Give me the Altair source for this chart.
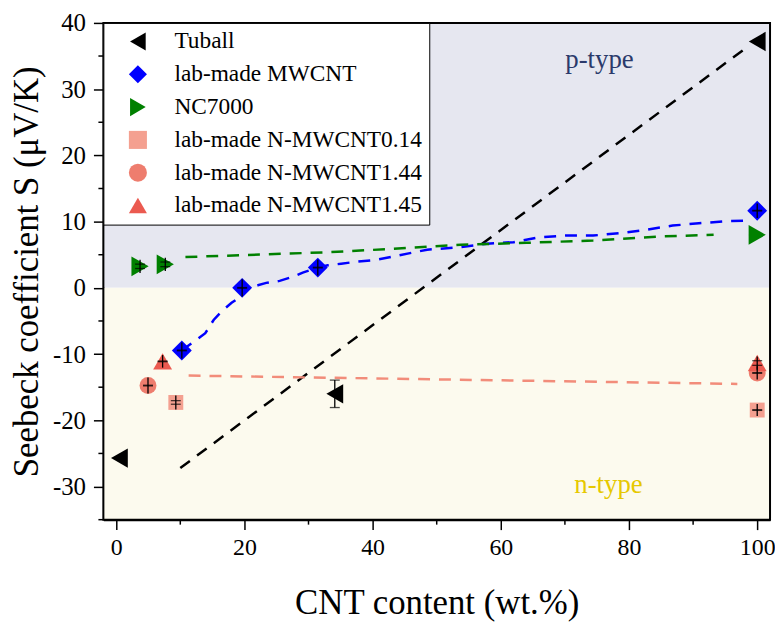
import altair as alt
import pandas as pd

# ---------------- data ----------------
series_names = ["Tuball", "lab-made MWCNT", "NC7000",
                "lab-made N-MWCNT0.14", "lab-made N-MWCNT1.44", "lab-made N-MWCNT1.45"]
series_colors = ["#000000", "#0000ff", "#008000", "#f4a090", "#ee7d6e", "#eb5a50"]
series_shapes = ["triangle-left", "diamond", "triangle-right", "square", "circle", "triangle-up"]
series_sizes = [380, 400, 400, 225, 290, 360]

tuball_x = [0.5, 34.1, 100]
tuball_y = [-25.7, -16.0, 37.2]
tuball_whisker = [0, 2.07, 0]
tuball_cap = [0, 2.07, 0]

mwcnt_x = [10.24, 19.65, 31.45, 100]
mwcnt_y = [-9.45, 0.0, 3.06, 11.65]
mwcnt_whisker = [1.2, 1.3, 1.2, 1.1]
mwcnt_cap = [0.05, 0.05, 0.05, 0.05]

nc_x = [3.72, 7.66, 100]
nc_y = [3.25, 3.55, 8.0]
nc_whisker = [1.0, 1.0, 0]
nc_cap = [0.33, 0.35, 0]

n014_x = [9.3, 100]
n014_y = [-17.3, -18.45]
n014_whisker = [1.05, 0.9]
n014_cap = [0.27, 0.05]

n144_x = [4.96, 100]
n144_y = [-14.75, -12.85]
n144_whisker = [1.2, 1.0]
n144_cap = [0.05, 0.05]

n145_x = [7.24, 100]
n145_y = [-11.1, -11.35]
n145_whisker = [0.95, 1.0]
n145_cap = [0.05, 0.35]

# dashed trend curves
fit_tuball_x = [10.0, 98.5]
fit_tuball_y = [-27.2, 36.4]
fit_mwcnt_x = [10.2, 12.4, 13.9, 15.2, 16.4, 18.0, 19.0, 19.65, 22.1, 23.4, 25.5, 27.8, 29.1,
               31.45, 33.0, 35.1, 37.1, 40.7, 48.5, 53.7, 57.8, 62.0, 66.1, 70.2, 74.4, 78.5,
               82.6, 86.8, 90.9, 95.0, 98.4]
fit_mwcnt_y = [-9.45, -7.95, -6.85, -4.85, -3.6, -2.25, -1.6, 0.0, 0.4, 0.75, 1.05, 1.75, 2.3,
               3.06, 3.4, 3.65, 3.9, 4.25, 5.76, 6.15, 6.66, 6.9, 7.65, 7.9, 7.9, 8.25,
               8.76, 9.4, 9.75, 10.05, 10.15]
fit_nc_x = [10.8, 23.2, 33.5, 43.3, 53.7, 64.0, 74.4, 84.7, 93.2]
fit_nc_y = [4.65, 5.05, 5.4, 5.9, 6.5, 6.8, 7.15, 7.75, 8.0]
fit_n_x = [11.3, 96.9]
fit_n_y = [-13.25, -14.5]
fit_colors = ["#000000", "#0000ff", "#008000", "#f28c7a"]

# background regions
region_names = ["p-type", "n-type"]
region_lo = [0, -35]
region_hi = [40, 0]
region_fill = ["#e6e7f0", "#fcfaee"]
region_text_x = [75.4, 76.8]
region_text_y = [33.15, -31.0]
region_text_color = ["#2b3a6b", "#e6c800"]

x_domain = [-2, 102]
y_domain = [-35, 40]
x_major = [0, 20, 40, 60, 80, 100]
x_minor = [10, 30, 50, 70, 90]
y_major = [-30, -20, -10, 0, 10, 20, 30, 40]
y_minor = [-35, -25, -15, -5, 5, 15, 25, 35]

# ---------------- tables ----------------
size_of = dict(zip(series_names, series_sizes))
pts = []
errs = []
for name, xs_, ys_, wh, cp in [
    (series_names[0], tuball_x, tuball_y, tuball_whisker, tuball_cap),
    (series_names[1], mwcnt_x, mwcnt_y, mwcnt_whisker, mwcnt_cap),
    (series_names[2], nc_x, nc_y, nc_whisker, nc_cap),
    (series_names[3], n014_x, n014_y, n014_whisker, n014_cap),
    (series_names[4], n144_x, n144_y, n144_whisker, n144_cap),
    (series_names[5], n145_x, n145_y, n145_whisker, n145_cap),
]:
    for x, y, w, c in zip(xs_, ys_, wh, cp):
        pts.append({"series": name, "x": x, "y": y, "sz": size_of[name]})
        if w > 0:
            errs.append({"x": x, "lo": y - w, "hi": y + w,
                         "cap_lo": y - c, "cap_hi": y + c})
pts = pd.DataFrame(pts)
errs = pd.DataFrame(errs)
caps = pd.concat([errs[["x", "cap_lo"]].rename(columns={"cap_lo": "y"}),
                  errs[["x", "cap_hi"]].rename(columns={"cap_hi": "y"})])

fits = []
for i, (fx, fy) in enumerate([(fit_tuball_x, fit_tuball_y), (fit_mwcnt_x, fit_mwcnt_y),
                              (fit_nc_x, fit_nc_y), (fit_n_x, fit_n_y)]):
    for k, (x, y) in enumerate(zip(fx, fy)):
        fits.append({"fit": i, "order": k, "x": x, "y": y, "col": fit_colors[i]})
fits = pd.DataFrame(fits)

regions = pd.DataFrame({"name": region_names, "lo": region_lo, "hi": region_hi,
                        "fill": region_fill, "tx": region_text_x, "ty": region_text_y,
                        "tcol": region_text_color})

W, H = 671, 500
FONT = "Liberation Serif, DejaVu Serif, serif"

xs = alt.Scale(domain=x_domain, nice=False, zero=False)
ys = alt.Scale(domain=y_domain, nice=False, zero=False)

xaxis = alt.Axis(values=x_major, title="CNT content (wt.%)", format="d",
                 labelFont=FONT, titleFont=FONT, titleFontSize=35, labelFontSize=24,
                 labelPadding=6, titlePadding=26, labelFlush=False, labelOverlap=False)
yaxis = alt.Axis(values=y_major, title="Seebeck coefficient S (μV/K)",
                 labelExpr="'' + datum.value", labelFont=FONT, titleFont=FONT,
                 titleFontSize=35,
                 labelPadding=8, titlePadding=8, labelFlush=False, labelOverlap=False)

bg = alt.Chart(regions).mark_rect().encode(
    x=alt.value(0), x2=alt.value(W),
    y=alt.Y("lo:Q", scale=ys, axis=yaxis), y2="hi:Q",
    fill=alt.Fill("fill:N", scale=None),
)

labels = alt.Chart(regions).mark_text(fontSize=27, font=FONT, baseline="alphabetic",
                                      align="center").encode(
    x=alt.X("tx:Q", scale=xs, axis=xaxis), y=alt.Y("ty:Q", scale=ys, axis=yaxis),
    text="name:N", fill=alt.Fill("tcol:N", scale=None),
)

lines = alt.Chart(fits).mark_line(strokeDash=[12, 9], strokeWidth=2.5).encode(
    x=alt.X("x:Q", scale=xs, axis=xaxis), y=alt.Y("y:Q", scale=ys, axis=yaxis),
    detail="fit:N", order="order:Q",
    stroke=alt.Stroke("col:N", scale=None),
)

leg = alt.Legend(title=None, orient="none", legendX=0, legendY=0, padding=7,
                 rowPadding=8, symbolOffset=16, labelOffset=25, labelFontSize=23.5,
                 labelFont=FONT, labelColor="black", labelLimit=400, symbolSize=330,
                 fillColor="white", strokeColor="black", symbolStrokeWidth=0,
                 symbolOpacity=1, cornerRadius=0)

points = alt.Chart(pts).mark_point(filled=True, opacity=1, strokeWidth=0).encode(
    x=alt.X("x:Q", scale=xs, axis=xaxis), y=alt.Y("y:Q", scale=ys, axis=yaxis),
    color=alt.Color("series:N", scale=alt.Scale(domain=series_names, range=series_colors),
                    legend=leg, sort=series_names),
    shape=alt.Shape("series:N", scale=alt.Scale(domain=series_names, range=series_shapes),
                    legend=leg, sort=series_names),
    size=alt.Size("sz:Q", scale=None),
)

whiskers = alt.Chart(errs).mark_rule(color="black", strokeWidth=1.3).encode(
    x=alt.X("x:Q", scale=xs, axis=xaxis), y=alt.Y("lo:Q", scale=ys, axis=yaxis), y2="hi:Q",
)
capmarks = alt.Chart(caps).mark_tick(orient="horizontal", size=10, thickness=1.3,
                                     color="black").encode(
    x=alt.X("x:Q", scale=xs, axis=xaxis), y=alt.Y("y:Q", scale=ys, axis=yaxis),
)

minor_y = alt.Chart(pd.DataFrame({"v": y_minor})).mark_rule(
    color="black", strokeWidth=1.5).encode(
    y=alt.Y("v:Q", scale=ys, axis=yaxis), x=alt.value(-5), x2=alt.value(0),
)
minor_x = alt.Chart(pd.DataFrame({"v": x_minor})).mark_rule(
    color="black", strokeWidth=1.5).encode(
    x=alt.X("v:Q", scale=xs, axis=xaxis), y=alt.value(H), y2=alt.value(H + 5),
)

frame = alt.Chart(pd.DataFrame({"a": [0]})).mark_rect(
    fillOpacity=0, stroke="black", strokeWidth=2).encode(
    x=alt.value(0), x2=alt.value(W), y=alt.value(0), y2=alt.value(H),
)

chart = alt.layer(bg, labels, lines, points, whiskers, capmarks, minor_y, minor_x,
                  frame).properties(
    width=W, height=H,
    padding={"left": 96, "top": 13, "right": 5, "bottom": 104},
    autosize=alt.AutoSizeParams(type="none"),
).configure(font=FONT).configure_view(stroke=None).configure_axis(
    labelFont=FONT, titleFont=FONT, labelFontSize=25, titleFontSize=35,
    titleFontWeight="normal", labelColor="black", titleColor="black",
    domainColor="black", domainWidth=2, tickColor="black", tickWidth=1.5, tickSize=10,
    grid=False, zindex=1,
).configure_legend(labelFont=FONT)

chart.save("out.html", embed_options={"renderer": "svg", "actions": False})
